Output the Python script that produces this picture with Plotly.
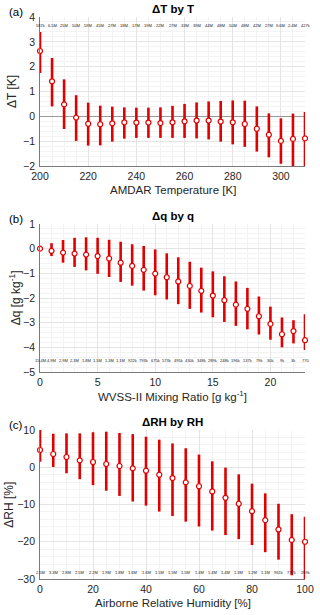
import plotly.graph_objects as go
import numpy as np

# (a) dT by T
t_bins = np.arange(200, 311, 5)
t_mean = [2.63, 1.41, 0.48, -0.05, -0.30, -0.32, -0.28, -0.24, -0.25, -0.25, -0.27, -0.24,
          -0.20, -0.17, -0.17, -0.21, -0.24, -0.31, -0.50, -0.74, -0.99, -0.91, -0.89]
t_hi = [3.40, 2.35, 1.49, 0.85, 0.55, 0.43, 0.39, 0.36, 0.35, 0.35, 0.36, 0.42,
        0.50, 0.56, 0.60, 0.62, 0.64, 0.63, 0.40, 0.12, -0.08, 0.11, 0.17]
t_lo = [1.74, 0.40, -0.51, -0.99, -1.18, -1.17, -1.02, -0.90, -0.87, -0.87, -0.87, -0.87,
        -0.87, -0.89, -0.93, -1.02, -1.13, -1.23, -1.42, -1.65, -1.91, -2.0, -2.0]
t_counts = ["587k", "6.5M", "25M", "50M", "59M", "45M", "27M", "18M", "17M", "19M", "22M", "27M",
            "33M", "39M", "44M", "48M", "50M", "48M", "42M", "27M", "9.6M", "2.4M", "427k"]

# (b) dq by q
q_bins = np.arange(0, 24, 1)
q_mean = [0.0, -0.09, -0.16, -0.20, -0.24, -0.30, -0.40, -0.57, -0.70, -0.86, -1.01, -1.16,
          -1.33, -1.51, -1.71, -1.90, -2.09, -2.27, -2.44, -2.74, -3.05, -3.47, -3.34, -3.71]
q_hi = [0.0, 0.22, 0.35, 0.44, 0.46, 0.44, 0.36, 0.28, 0.18, 0.11, -0.03, -0.19,
        -0.35, -0.53, -0.77, -0.92, -1.12, -1.33, -1.59, -1.94, -2.35, -2.79, -2.90, -2.66]
q_lo = [0.0, -0.30, -0.57, -0.74, -0.88, -1.02, -1.15, -1.35, -1.50, -1.70, -1.89, -2.06,
        -2.25, -2.44, -2.59, -2.78, -2.97, -3.13, -3.27, -3.48, -3.69, -4.00, -3.84, -4.11]
q_counts = ["15.4M", "4.9M", "2.9M", "2.3M", "1.8M", "1.5M", "1.3M", "1.1M", "922k", "793k",
            "675k", "573k", "495k", "430k", "348k", "289k", "248k", "196k", "137k", "79k",
            "30k", "9k", "3k", "770"]

# (c) dRH by RH
rh_bins = np.arange(0, 101, 5)
rh_mean = [4.63, 3.56, 2.75, 1.86, 1.41, 0.87, 0.34, -0.29, -0.92, -2.0, -2.9, -4.05,
           -5.1, -6.5, -8.2, -9.8, -11.8, -14.2, -16.7, -19.5, -20.0]
rh_hi = [10.0, 9.0, 9.1, 9.1, 9.4, 9.55, 9.2, 8.9, 8.2, 7.4, 6.4, 5.1,
         3.4, 1.6, -0.1, -1.9, -4.4, -7.0, -9.8, -12.6, -13.3]
rh_lo = [1.5, 0.07, -1.6, -3.2, -4.8, -6.3, -7.7, -9.2, -10.3, -11.9, -13.1, -14.6,
         -15.9, -17.0, -18.2, -19.3, -20.9, -22.8, -24.8, -29.0, -30.0]
rh_counts = ["2.5M", "3.3M", "2.8M", "2.5M", "2.2M", "1.9M", "1.8M", "1.6M", "1.6M", "1.5M",
             "1.5M", "1.5M", "1.4M", "1.4M", "1.4M", "1.3M", "1.2M", "1.1M", "961k", "777k", "289k"]

RED = "#e00000"
FONT = "Liberation Sans"

panels = [
    (t_bins, t_mean, t_hi, t_lo, t_counts, 3.65),
    (q_bins, q_mean, q_hi, q_lo, q_counts, -4.55),
    (rh_bins, rh_mean, rh_hi, rh_lo, rh_counts, -28.2),
]

fig = go.Figure()
annos = []
for i, (x, m, hi, lo, cnt, ylab) in enumerate(panels):
    sfx = "" if i == 0 else str(i + 1)
    m = np.array(m); hi = np.array(hi); lo = np.array(lo)
    fig.add_trace(go.Scatter(
        x=x, y=m, mode="markers", xaxis="x" + sfx, yaxis="y" + sfx,
        marker=dict(symbol="circle", size=5, color="white", line=dict(color=RED, width=1.2)),
        error_y=dict(type="data", symmetric=False, array=hi - m, arrayminus=m - lo,
                     color=RED, thickness=2.6, width=0),
        showlegend=False, cliponaxis=False, hoverinfo="skip"))
    for xv, c in zip(x, cnt):
        annos.append(dict(x=xv, y=ylab, xref="x" + sfx, yref="y" + sfx, text=c,
                          showarrow=False, font=dict(size=4, color="#222", family=FONT)))

# plot area: 40..305 px wide, margin t=17, b=36 -> height 562
doms = [[0.7349, 1.0], [0.3683, 0.6317], [0.0, 0.2651]]
xr = [[200, 310], [0, 23], [0, 100]]
xd = [20, 5, 20]
yr = [[-2, 4], [-5, 1], [-30, 10]]
yd = [1, 1, 10]
xtitles = ["AMDAR Temperature [K]", "WVSS-II Mixing Ratio [g kg<sup>-1</sup>]",
           "Airborne Relative Humidity [%]"]
ytitles = ["ΔT [K]", "Δq [g kg<sup>-1</sup>]", "ΔRH [%]"]
ytitle_x = [-0.104, -0.093, -0.12]
titles = ["<b>ΔT by T</b>", "<b>Δq by q</b>", "<b>ΔRH by RH</b>"]
letters = ["(a)", "(b)", "(c)"]

layout = dict(
    width=320, height=615, paper_bgcolor="white", plot_bgcolor="white",
    margin=dict(l=40, r=15, t=17, b=36),
    font=dict(family=FONT, size=10, color="#262626"),
)
for i in range(3):
    sfx = "" if i == 0 else str(i + 1)
    layout["xaxis" + sfx] = dict(
        domain=[0, 1], anchor="y" + sfx, range=xr[i], dtick=xd[i], tick0=0, automargin=False,
        showgrid=True, gridcolor="#e4e4e4", gridwidth=0.6,
        minor=dict(showgrid=True, gridcolor="#f3f3f3", nticks=5, gridwidth=0.5),
        showline=True, linecolor="#7a7a7a", linewidth=0.7, ticks="", zeroline=False,
        ticklabelstandoff=1, tickfont=dict(size=10.5),
    )
    layout["yaxis" + sfx] = dict(
        domain=doms[i], anchor="x" + sfx, range=yr[i], dtick=yd[i], automargin=False,
        showgrid=True, gridcolor="#e4e4e4", gridwidth=0.6,
        minor=dict(showgrid=True, gridcolor="#f3f3f3", nticks=5, gridwidth=0.5),
        showline=True, linecolor="#7a7a7a", linewidth=0.7, ticks="",
        zeroline=(i == 0), zerolinecolor="#9a9a9a", zerolinewidth=0.8,
        ticklabelstandoff=2, tickfont=dict(size=10.5),
    )
    annos.append(dict(x=0.5, y=doms[i][1], xref="paper", yref="paper", yanchor="bottom",
                      text=titles[i], showarrow=False, font=dict(size=11.5, color="black")))
    annos.append(dict(x=-0.125, y=doms[i][1], xref="paper", yref="paper", xanchor="left",
                      yanchor="bottom", yshift=-3, text=letters[i], showarrow=False,
                      font=dict(size=11.5, color="black")))
    annos.append(dict(x=0.5, y=doms[i][0], xref="paper", yref="paper", yanchor="middle",
                      yshift=-24, text=xtitles[i], showarrow=False,
                      font=dict(size=11.5, color="#262626")))
    annos.append(dict(x=ytitle_x[i], y=(doms[i][0] + doms[i][1]) / 2, xref="paper", yref="paper",
                      xanchor="center", yanchor="middle", textangle=-90, text=ytitles[i],
                      showarrow=False, font=dict(size=12, color="#262626")))

layout["annotations"] = annos
fig.update_layout(**layout)
# the page body has a default 8px margin; drop it so the figure fills the window
fig.write_html("out.html", config={"displayModeBar": False},
               post_script="document.body.style.margin='0';")
